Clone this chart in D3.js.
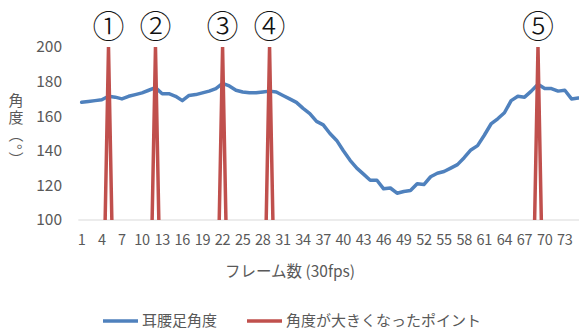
<!DOCTYPE html>
<html>
<head>
<meta charset="utf-8">
<script src="https://cdn.jsdelivr.net/npm/d3@7"></script>
<style>
  html, body { margin: 0; padding: 0; background: #fff; }
  svg { display: block; font-family: "Noto Sans CJK JP", "Noto Sans", sans-serif; }
</style>
</head>
<body>
<svg id="chart" width="579" height="331"></svg>
<script>
// Frame numbers (30 fps)
const frames = [1,2,3,4,5,6,7,8,9,10,11,12,13,14,15,16,17,18,19,20,21,22,23,24,25,
  26,27,28,29,30,31,32,33,34,35,36,37,38,39,40,41,42,43,44,45,46,47,48,49,50,
  51,52,53,54,55,56,57,58,59,60,61,62,63,64,65,66,67,68,69,70,71,72,73,74,75];

// Ear–hip–foot angle (degrees)
const angle = [168,168.5,169,169.5,171.5,171,170,171.5,172.5,173.5,175,176.5,173,173,171.5,
  169,172,172.5,173.5,174.5,176,179,177.5,175,174,173.5,173.5,174,174.5,174,
  172,170,168,164.5,161.5,157,155,150,146,140,134.5,130,126.5,123,123,
  118,118.5,115.5,116.5,117,121,120.5,125,127,128,130,132,136,140.5,143,
  149,155.5,158.5,162,169,171.5,171,174.5,178.5,176,176,174.5,175,170,170.5];

// Points where the angle became large (200 = marked, 0 = not marked)
const peaks = [0,0,0,0,200,0,0,0,0,0,0,200,0,0,0,0,0,0,0,0,0,200,0,0,0,
  0,0,0,200,0,0,0,0,0,0,0,0,0,0,0,0,0,0,0,0,0,0,0,0,0,
  0,0,0,0,0,0,0,0,0,0,0,0,0,0,0,0,0,0,200,0,0,0,0,0,0];

// Circled markers above each peak
const peakFrames = [5, 12, 22, 29, 69];
const peakLabels = ["①", "②", "③", "④", "⑤"];

const xTickLabels = [1,4,7,10,13,16,19,22,25,28,31,34,37,40,43,46,49,52,55,58,61,64,67,70,73];
const yTicks = [100, 120, 140, 160, 180, 200];

const seriesNames = ["耳腰足角度", "角度が大きくなったポイント"];
const xTitle = "フレーム数 (30fps)";
const yTitle = "角度（°）";

const colors = { angle: "#4F81BD", peak: "#C0504D", axis: "#D9D9D9", text: "#595959" };

const svg = d3.select("#chart");
const plot = { left: 78.3, right: 581.6, top: 47, bottom: 220 };

const x = d3.scaleBand().domain(frames).range([plot.left, plot.right]).padding(0);
const xc = f => x(f) + x.bandwidth() / 2;
const y = d3.scaleLinear().domain([100, 200]).range([plot.bottom, plot.top]);

svg.append("defs").append("clipPath").attr("id", "plotClip")
  .append("rect")
  .attr("x", plot.left).attr("y", plot.top)
  .attr("width", plot.right - plot.left).attr("height", plot.bottom - plot.top);

// Horizontal axis line
svg.append("line")
  .attr("x1", plot.left).attr("x2", plot.right)
  .attr("y1", y(100)).attr("y2", y(100))
  .attr("stroke", colors.axis).attr("stroke-width", 1);

// Y tick labels
svg.append("g").selectAll("text").data(yTicks).join("text")
  .attr("x", 62).attr("y", d => y(d))
  .attr("dy", "0.35em")
  .attr("text-anchor", "end")
  .attr("font-size", 15.5)
  .attr("fill", colors.text)
  .text(d => d);

// X tick labels
svg.append("g").selectAll("text").data(xTickLabels).join("text")
  .attr("x", d => xc(d)).attr("y", 245)
  .attr("text-anchor", "middle")
  .attr("font-size", 14.5)
  .attr("letter-spacing", -0.3)
  .attr("fill", colors.text)
  .text(d => d);

// Axis titles
svg.append("text")
  .attr("x", 290).attr("y", 277)
  .attr("text-anchor", "middle")
  .attr("font-size", 15.5)
  .attr("fill", colors.text)
  .text(xTitle);

svg.append("text")
  .attr("x", 16).attr("y", 93)
  .attr("writing-mode", "vertical-rl")
  .attr("font-size", 15)
  .attr("letter-spacing", 2)
  .attr("fill", colors.text)
  .text(yTitle);

const line = d3.line().x((d, i) => xc(frames[i])).y(d => y(d));

const plotG = svg.append("g").attr("clip-path", "url(#plotClip)");

plotG.append("path")
  .datum(angle)
  .attr("d", line)
  .attr("fill", "none")
  .attr("stroke", colors.angle)
  .attr("stroke-width", 3.5)
  .attr("stroke-linejoin", "round")
  .attr("stroke-linecap", "round");

plotG.append("path")
  .datum(peaks)
  .attr("d", line)
  .attr("fill", "none")
  .attr("stroke", colors.peak)
  .attr("stroke-width", 3.5)
  .attr("stroke-linejoin", "round")
  .attr("stroke-linecap", "round");

// Circled numbers over the peaks
svg.append("g").selectAll("text").data(peakFrames).join("text")
  .attr("x", d => xc(d)).attr("y", 37.5)
  .attr("text-anchor", "middle")
  .attr("font-weight", 200)
  .attr("font-size", 32)
  .attr("fill", "#111")
  .text((d, i) => peakLabels[i]);

// Legend
const legend = svg.append("g");
const legendItems = [
  { name: seriesNames[0], color: colors.angle, x0: 103 },
  { name: seriesNames[1], color: colors.peak, x0: 247 }
];
const ly = 321;
legendItems.forEach(it => {
  legend.append("line")
    .attr("x1", it.x0).attr("x2", it.x0 + 35)
    .attr("y1", ly).attr("y2", ly)
    .attr("stroke", it.color).attr("stroke-width", 3.5);
  legend.append("text")
    .attr("x", it.x0 + 39).attr("y", ly)
    .attr("dy", "0.35em")
    .attr("font-size", 15)
    .attr("fill", colors.text)
    .text(it.name);
});
</script>
</body>
</html>
